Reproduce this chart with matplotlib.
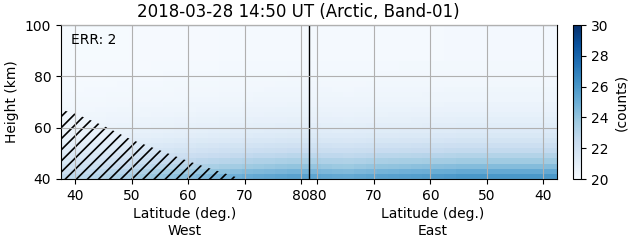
import numpy as np
import matplotlib
matplotlib.use("Agg")
import matplotlib.pyplot as plt

# ---- data ----
lat_max = 81.45                      # highest latitude of the track (black line)
west_start, east_end = 37.5, 37.6    # latitude at left / right edges
height_edges = np.arange(40, 101, 2)
# vertical profile of counts (cell centres 41, 43, ..., 99 km)
profile = [26.0, 25.2, 24.4, 23.7, 23.1, 22.6, 22.2, 21.8, 21.5, 21.3,
           21.1, 20.95, 20.8, 20.7, 20.6, 20.5, 20.45, 20.4, 20.35, 20.3,
           20.3, 20.25, 20.25, 20.2, 20.2, 20.2, 20.2, 20.2, 20.2, 20.2]
# relative strength of the signal along the track (West: 37.5 -> pole, East: pole -> 37.6)
west_factor = [0.45, 0.48, 0.50, 0.52, 0.55, 0.57, 0.60, 0.62, 0.65, 0.67, 0.70,
               0.72, 0.75, 0.78, 0.80, 0.82, 0.85, 0.87, 0.88, 0.90, 0.92, 0.92]
east_factor = [0.90, 0.88, 0.87, 0.86, 0.88, 0.90, 0.92, 0.93, 0.94, 0.95, 0.96,
               0.97, 0.98, 1.00, 1.00, 1.00, 1.00, 1.00, 1.00, 1.00, 1.00, 1.00]
# hatched (invalid) region boundary on the West side
hatch_lat = [37.5, 40, 45, 50, 55, 60, 65, 69.5]
hatch_h = [67, 65.5, 60.8, 55.3, 51.2, 47, 43.3, 40]
tick_lats = [40, 50, 60, 70, 80]
vmin, vmax = 20, 30

plt.rcParams["hatch.linewidth"] = 1.2

# ---- along-track coordinate ----
def east_x(lat):
    return 2 * lat_max - np.asarray(lat, dtype=float)

west_edges = np.linspace(west_start, lat_max, len(west_factor) + 1)
east_edges = east_x(np.linspace(lat_max, east_end, len(east_factor) + 1))[1:]
x_edges = np.concatenate([west_edges, east_edges])
factor = np.array(west_factor + east_factor)
prof = np.array(profile)
C = vmin + (prof[:, None] - vmin) * factor[None, :]

fig = plt.figure(figsize=(6.31, 2.43), dpi=100)
ax = fig.add_axes([61 / 631, 64 / 243, 496 / 631, 154 / 243])
cax = fig.add_axes([573 / 631, 64 / 243, 8.5 / 631, 154 / 243])

mesh = ax.pcolormesh(x_edges, height_edges, C, cmap="Blues", vmin=vmin, vmax=vmax)
ax.fill_between(hatch_lat, hatch_h, 40, facecolor="none", edgecolor="black",
                hatch="///", linewidth=0)
ax.axvline(lat_max, color="black", linewidth=1)

xt = list(tick_lats) + list(east_x(tick_lats[::-1]))
ax.set_xticks(xt)
ax.set_xticklabels([str(v) for v in tick_lats] + [str(v) for v in tick_lats[::-1]])
ax.set_xlim(west_start, east_x(east_end))
ax.set_ylim(40, 100)
ax.set_yticks([40, 60, 80, 100])
ax.grid(True, color="#b0b0b0", linewidth=0.8)
ax.set_axisbelow(False)
ax.set_ylabel("Height (km)")
ax.set_title("2018-03-28 14:50 UT (Arctic, Band-01)", fontsize=12, x=0.478)
ax.text(0.02, 0.9, "ERR: 2", transform=ax.transAxes, fontsize=10, va="center")
ax.text(0.25, -0.185, "Latitude (deg.)\nWest", transform=ax.transAxes,
        ha="center", va="top", fontsize=10)
ax.text(0.75, -0.185, "Latitude (deg.)\nEast", transform=ax.transAxes,
        ha="center", va="top", fontsize=10)

cb = fig.colorbar(mesh, cax=cax)
cb.set_ticks([20, 22, 24, 26, 28, 30])
cb.set_label("(counts)")

fig.savefig("out.png", dpi=100)
